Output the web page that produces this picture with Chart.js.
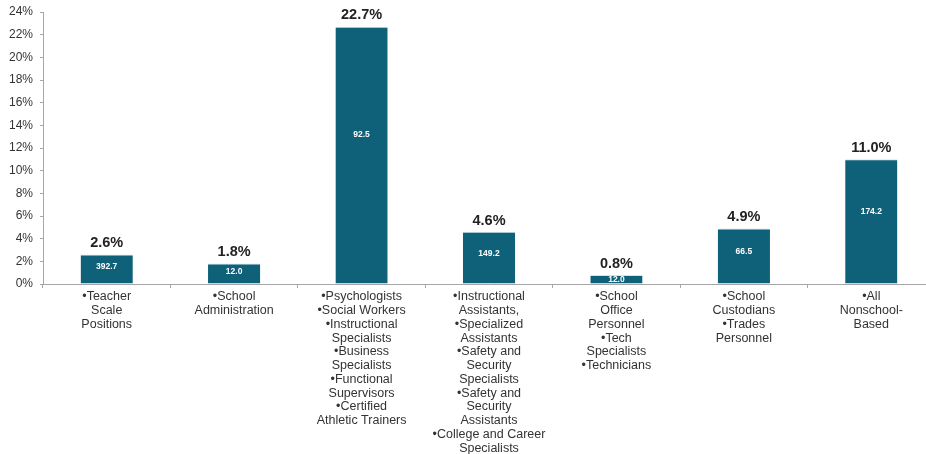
<!DOCTYPE html>
<html>
<head>
<meta charset="utf-8">
<script src="https://cdn.jsdelivr.net/npm/chart.js@4.4.1/dist/chart.umd.min.js"></script>
<style>
  html, body { margin: 0; padding: 0; background: #fff; overflow: hidden; }
  #wrap { width: 935px; height: 454px; }
</style>
</head>
<body>
<div id="wrap"><canvas id="staffBar"></canvas></div>
<script>
const categories = [
  ['•Teacher', 'Scale', 'Positions'],
  ['•School', 'Administration'],
  ['•Psychologists', '•Social Workers', '•Instructional', 'Specialists', '•Business', 'Specialists', '•Functional', 'Supervisors', '•Certified', 'Athletic Trainers'],
  ['•Instructional', 'Assistants,', '•Specialized', 'Assistants', '•Safety and', 'Security', 'Specialists', '•Safety and', 'Security', 'Assistants', '•College and Career', 'Specialists'],
  ['•School', 'Office', 'Personnel', '•Tech', 'Specialists', '•Technicians'],
  ['•School', 'Custodians', '•Trades', 'Personnel'],
  ['•All', 'Nonschool-', 'Based']
];
const percentChange = [2.6, 1.8, 22.7, 4.6, 0.8, 4.9, 11.0];
const positions = [392.7, 12.0, 92.5, 149.2, 12.0, 66.5, 174.2];
const yTicks = [0, 2, 4, 6, 8, 10, 12, 14, 16, 18, 20, 22, 24];

const barColor = '#0f6079';
const axisColor = '#a6a6a6';
const textColor = '#333';

// value labels: percent above each bar, count inside in white
const barLabels = {
  id: 'barLabels',
  afterDatasetsDraw(chart) {
    const ctx = chart.ctx;
    const meta = chart.getDatasetMeta(0);
    ctx.save();
    ctx.textAlign = 'center';
    meta.data.forEach((bar, i) => {
      ctx.fillStyle = '#222';
      ctx.font = 'bold 14.5px Arial, "Liberation Sans"';
      ctx.textBaseline = 'bottom';
      ctx.fillText(percentChange[i].toFixed(1) + '%', bar.x, bar.y - 4);
      const h = bar.base - bar.y;
      ctx.fillStyle = '#fff';
      ctx.font = 'bold 8.5px Arial, "Liberation Sans"';
      ctx.textBaseline = 'middle';
      ctx.fillText(positions[i].toFixed(1), bar.x, bar.y + Math.max(h * 0.42, 5));
    });
    ctx.restore();
  }
};

new Chart(document.getElementById('staffBar'), {
  type: 'bar',
  data: {
    labels: categories,
    datasets: [{
      data: percentChange,
      backgroundColor: barColor,
      borderColor: '#cfe6ee',
      borderWidth: { top: 1, left: 0, right: 0, bottom: 0 },
      barPercentage: 0.41,
      categoryPercentage: 1
    }]
  },
  options: {
    responsive: true,
    maintainAspectRatio: false,
    animation: false,
    layout: { padding: { top: 12, left: 0, right: 0, bottom: 0 } },
    plugins: { legend: { display: false }, tooltip: { enabled: false } },
    scales: {
      x: {
        afterFit: s => { s.height = 170; s.paddingLeft = 0; s.paddingRight = 0; },
        border: { color: axisColor, width: 1 },
        grid: { drawOnChartArea: false, tickLength: 4, color: axisColor, offset: true },
        ticks: {
          color: textColor, padding: 2, maxRotation: 0, autoSkip: false,
          font: { family: 'Arial, "Liberation Sans"', size: 12.5, lineHeight: 1.1 }
        }
      },
      y: {
        min: 0, max: 24,
        afterFit: s => { s.width = 43; s.paddingTop = 0; s.paddingBottom = 0; },
        afterBuildTicks: s => { s.ticks = yTicks.map(v => ({ value: v })); },
        border: { color: axisColor, width: 1 },
        grid: { drawOnChartArea: false, tickLength: 3, color: axisColor },
        ticks: {
          color: textColor, padding: 7,
          font: { family: 'Arial, "Liberation Sans"', size: 12 },
          callback: v => v + '%'
        }
      }
    }
  },
  plugins: [barLabels]
});
</script>
</body>
</html>
